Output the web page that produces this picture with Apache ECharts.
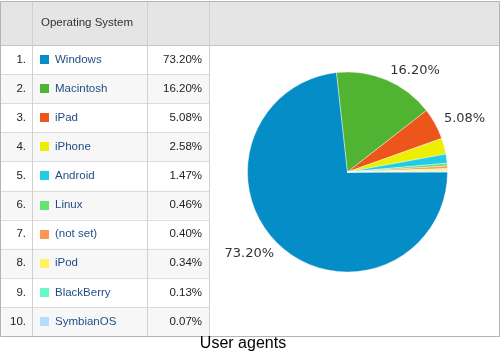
<!DOCTYPE html>
<html><head><meta charset="utf-8">
<script src="https://cdn.jsdelivr.net/npm/echarts@6/dist/echarts.min.js"></script>
<style>html,body{margin:0;padding:0;background:#fff}#c{width:503px;height:356px}</style>
</head><body><div id="c"></div>
<script>
var ranks = ['1.','2.','3.','4.','5.','6.','7.','8.','9.','10.'];
var categories = ['Windows','Macintosh','iPad','iPhone','Android','Linux','(not set)','iPod','BlackBerry','SymbianOS'];
var values = [73.20,16.20,5.08,2.58,1.47,0.46,0.40,0.34,0.13,0.07];
var headerLabel = 'Operating System';
var titleText = 'User agents';

var colors = ['#058DC7','#50B432','#ED561B','#EDEF00','#24CBE5','#64E572','#FF9655','#FFF263','#6AF9C4','#B2DEFF'];
var fontT = 'Arial, "Liberation Sans", Helvetica, sans-serif';

var top0 = 1, headH = 44, rowH = 29.1;
var colX = [0.5, 32.5, 147.5, 209.5, 499.5];
var bottom = top0 + headH + rowH * categories.length;

var g = [];
// header bg
g.push({type:'rect', shape:{x:colX[0], y:top0, width:colX[4]-colX[0], height:headH}, style:{fill:'#e5e5e5'}, silent:true});
// row bgs + row lines
for (var i = 0; i < categories.length; i++) {
  var y = top0 + headH + rowH * i;
  g.push({type:'rect', shape:{x:colX[0], y:y, width:colX[3]-colX[0], height:rowH}, style:{fill: i % 2 ? '#f7f7f7' : '#ffffff'}, silent:true});
  if (i > 0) g.push({type:'line', shape:{x1:colX[0], y1:Math.round(y)+0.5, x2:colX[3], y2:Math.round(y)+0.5}, style:{stroke:'#dcdcdc', lineWidth:1}, silent:true});
  var cy = y + rowH / 2;
  g.push({type:'text', style:{x:26, y:cy, text:ranks[i], align:'right', verticalAlign:'middle', font:'11.5px ' + fontT, fill:'#222'}, silent:true});
  g.push({type:'rect', shape:{x:40, y:Math.round(cy-4.5), width:9, height:9}, style:{fill:colors[i]}, silent:true});
  g.push({type:'text', style:{x:55, y:cy, text:categories[i], align:'left', verticalAlign:'middle', font:'11.5px ' + fontT, fill:'#1f4e85'}, silent:true});
  g.push({type:'text', style:{x:202, y:cy, text:values[i].toFixed(2) + '%', align:'right', verticalAlign:'middle', font:'11.5px ' + fontT, fill:'#222'}, silent:true});
}
// header bottom line
g.push({type:'line', shape:{x1:colX[0], y1:top0+headH+0.5, x2:colX[4], y2:top0+headH+0.5}, style:{stroke:'#c4c4c4', lineWidth:1}, silent:true});
// column lines
for (var k = 1; k < 4; k++) {
  g.push({type:'line', shape:{x1:colX[k], y1:top0, x2:colX[k], y2:bottom}, style:{stroke:'#d0d0d0', lineWidth:1}, silent:true});
}
// header text
g.push({type:'text', style:{x:41, y:top0+headH/2, text:headerLabel, align:'left', verticalAlign:'middle', font:'11.5px ' + fontT, fill:'#333'}, silent:true});
// outer border
g.push({type:'rect', shape:{x:colX[0], y:top0+0.5, width:colX[4]-colX[0], height:bottom-top0}, style:{fill:'none', stroke:'#b4b4b4', lineWidth:1}, silent:true});
// title
g.push({type:'text', style:{x:243, y:344, text:titleText, align:'center', verticalAlign:'middle', font:'16px ' + fontT, fill:'#000'}, silent:true});

var pieData = categories.map(function(c, i){
  return {name:c, value:values[i], itemStyle:{color:colors[i]}, label:{show: values[i] >= 5}};
});

var chart = echarts.init(document.getElementById('c'), null, {renderer:'canvas'});
chart.setOption({
  animation:false,
  graphic: g,
  series:[{
    type:'pie',
    center:[347.5, 172],
    radius:[0, 100],
    startAngle:0,
    clockwise:true,
    avoidLabelOverlap:false,
    data: pieData,
    itemStyle:{borderColor:'#ffffff', borderWidth:0.4},
    label:{position:'outside', formatter:function(p){return p.value.toFixed(2)+'%';}, fontFamily:'"DejaVu Sans", sans-serif', fontSize:13, color:'#333', distanceToLabelLine:0},
    labelLine:{show:false, length:10, length2:0},
    emphasis:{disabled:true}
  }]
});
</script></body></html>
